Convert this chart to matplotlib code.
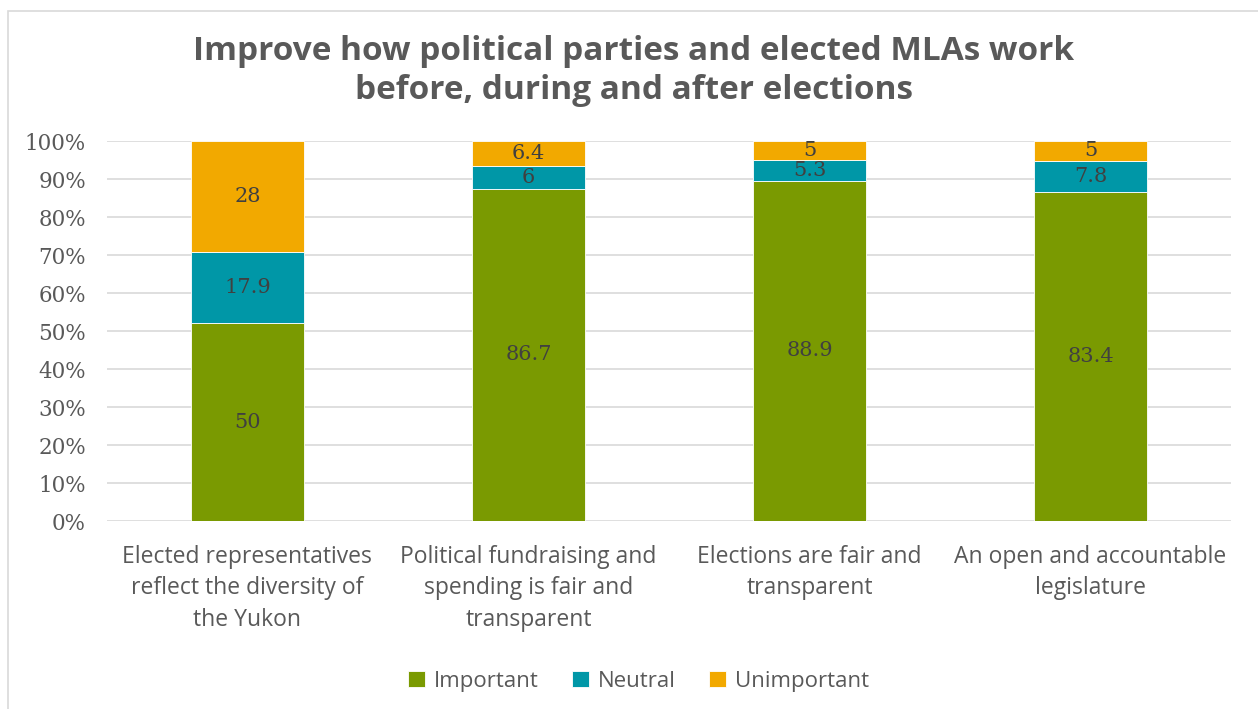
import numpy as np
import matplotlib.pyplot as plt
from matplotlib.patches import Rectangle

categories = [
    "Elected representatives\nreflect the diversity of\nthe Yukon",
    "Political fundraising and\nspending is fair and\ntransparent",
    "Elections are fair and\ntransparent",
    "An open and accountable\nlegislature",
]
important = [50, 86.7, 88.9, 83.4]
neutral = [17.9, 6, 5.3, 7.8]
unimportant = [28, 6.4, 5, 5]

series = [("Important", important, "#7a9a01"),
          ("Neutral", neutral, "#0097a7"),
          ("Unimportant", unimportant, "#f2a900")]

# 100% stacked: normalise each column
totals = np.array(important) + np.array(neutral) + np.array(unimportant)

fig = plt.figure(figsize=(12.58, 7.09), dpi=100)
fig.patches.append(Rectangle((0.006, -0.01), 0.995, 0.995, transform=fig.transFigure,
                             fill=False, edgecolor="#d9d9d9", linewidth=1.2))
ax = fig.add_axes([0.085, 0.265, 0.8935, 0.536])

x = np.arange(len(categories))
bottom = np.zeros(len(categories))
for name, vals, color in series:
    pct = np.array(vals) / totals * 100
    bars = ax.bar(x, pct, 0.4, bottom=bottom, color=color, label=name,
                  edgecolor="white", linewidth=0.6, zorder=3)
    ax.bar_label(bars, labels=[f"{v:g}" for v in vals], label_type="center",
                 fontsize=15, color="#404040", family="DejaVu Serif")
    bottom += pct

ax.set_xlim(-0.5, len(categories) - 0.5)
ax.set_ylim(0, 100)
ax.set_yticks(np.arange(0, 101, 10))
ax.set_yticklabels([f"{t}%" for t in range(0, 101, 10)], family="DejaVu Serif",
                   fontsize=15.5, color="#595959")
ax.set_xticks(x)
ax.set_xticklabels(categories, family="Open Sans", fontsize=16.5, color="#595959",
                   linespacing=1.42)
ax.tick_params(axis="both", length=0)
ax.tick_params(axis="x", pad=17)
ax.tick_params(axis="y", pad=15)
ax.grid(axis="y", color="#d9d9d9", linewidth=1.2, zorder=0)
for s in ax.spines.values():
    s.set_visible(False)

fig.text(0.504, 0.900, "Improve how political parties and elected MLAs work\nbefore, during and after elections",
         ha="center", va="center", fontsize=24, fontweight="bold", family="Open Sans",
         color="#595959", linespacing=1.25)

ax.legend(loc="center", bbox_to_anchor=(0.473, -0.422), ncol=3, frameon=False,
          prop={"family": "Open Sans", "size": 16}, labelcolor="#595959",
          handlelength=0.75, handleheight=0.75, handletextpad=0.4, columnspacing=1.5)

fig.savefig("out.png", dpi=100)
